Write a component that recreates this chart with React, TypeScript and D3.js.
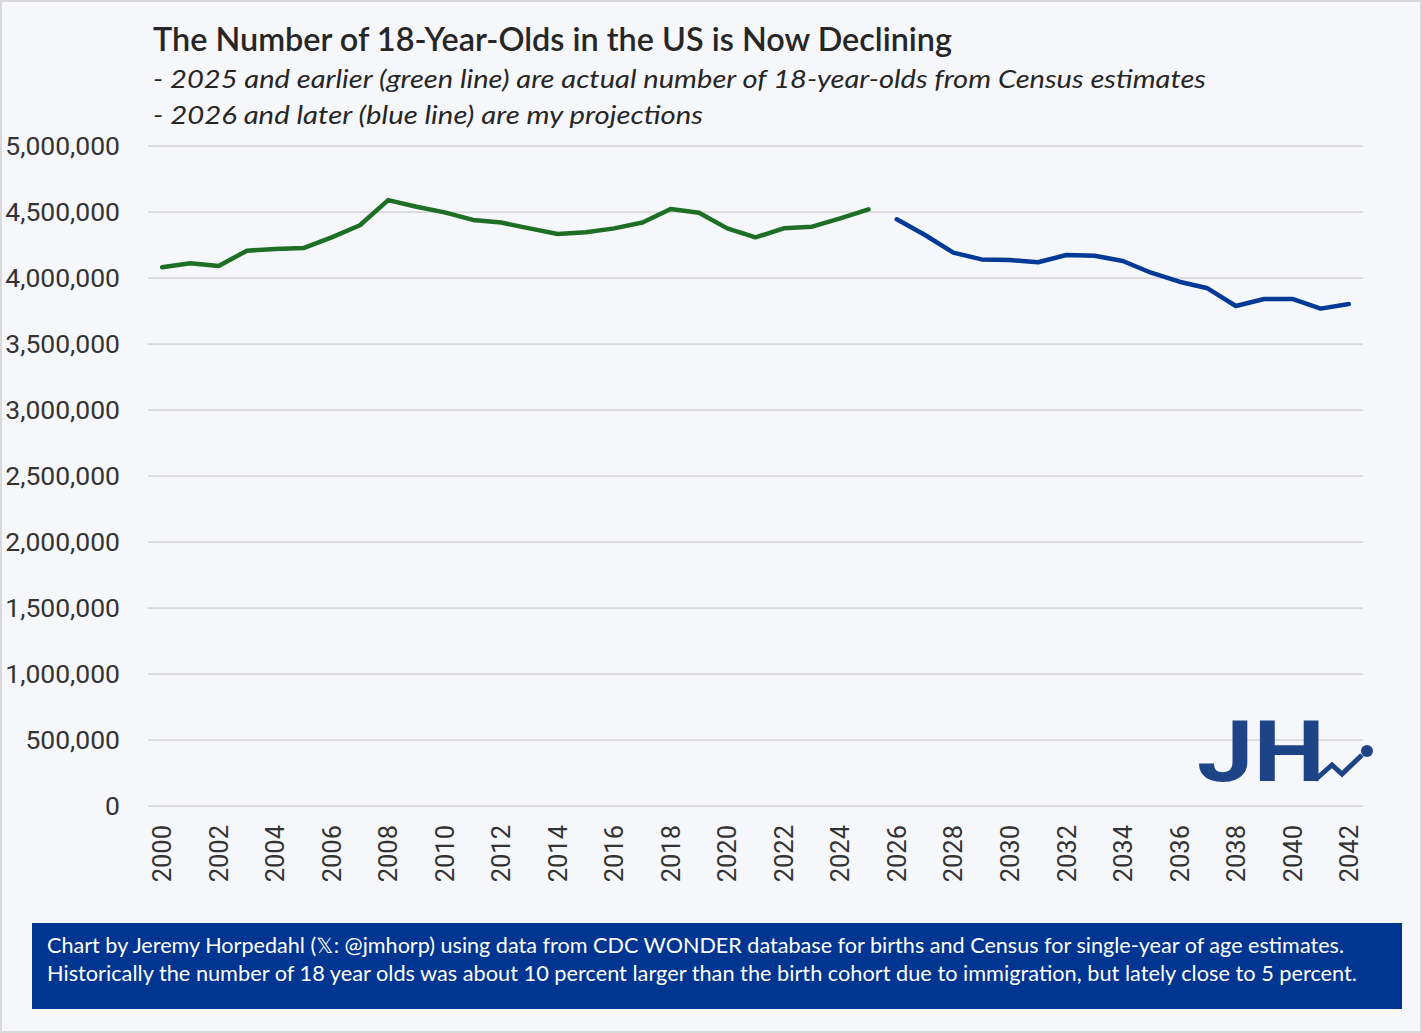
import React from 'react';
import * as d3 from 'd3';

// Actual counts (Census estimates) and projections
const actualYears = d3.range(2000, 2026);
const actualCounts = [
	4081000, 4111000, 4091000, 4207000, 4220000, 4227000, 4308000, 4400000, 4590000, 4540000,
	4497000, 4440000, 4420000, 4376000, 4333000, 4346000, 4376000, 4420000, 4523000, 4495000,
	4376000, 4308000, 4376000, 4389000, 4452000, 4520000,
];
const projYears = d3.range(2026, 2043);
const projCounts = [
	4445000, 4326000, 4192000, 4141000, 4136000, 4119000, 4174000, 4169000, 4129000, 4040000,
	3972000, 3922000, 3788000, 3841000, 3841000, 3768000, 3803000,
];
const yTicks = d3.range(0, 5000001, 500000);
const xTickYears = d3.range(2000, 2043, 2);

const title = 'The Number of 18-Year-Olds in the US is Now Declining';
const subtitles = [
	'- 2025 and earlier (green line) are actual number of 18-year-olds from Census estimates',
	'- 2026 and later (blue line) are my projections',
];
const footerLines = [
	'Chart by Jeremy Horpedahl (\u{1D54F}: @jmhorp) using data from CDC WONDER database for births and Census for single-year of age estimates.',
	'Historically the number of 18 year olds was about 10 percent larger than the birth cohort due to immigration, but lately close to 5 percent.',
];

const W = 1422;
const H = 1033;
const TEXT_FONT = 'Lato, "Open Sans", sans-serif';
const TICK_FONT = 'Roboto, "Liberation Sans", sans-serif';

const App: React.FC = () => {
	const plot = { left: 148, right: 1363, top: 146, bottom: 806 };

	const x = d3.scaleLinear().domain([1999.5, 2042.5]).range([plot.left, plot.right]);
	const y = d3.scaleLinear().domain([0, 5000000]).range([plot.bottom, plot.top]);
	const fmt = d3.format(',');

	const line = d3.line<[number, number]>()
		.x(d => x(d[0]))
		.y(d => y(d[1]));

	const actualPath = line(actualYears.map((yr, i) => [yr, actualCounts[i]]));
	const projPath = line(projYears.map((yr, i) => [yr, projCounts[i]]));

	return (
		<svg
			width={W}
			height={H}
			style={{ position: 'absolute', left: 0, top: 0, display: 'block' }}
		>
			<rect x={1} y={1} width={W - 2} height={H - 2} fill="#f6f7fb" stroke="#d9d9d9" strokeWidth={2} />

			{/* title block */}
			<text x={153} y={51} fontFamily={TEXT_FONT} fontSize={32} fontWeight={600} fill="#262626"
				textLength={799} lengthAdjust="spacingAndGlyphs">{title}</text>
			{subtitles.map((s, i) => (
				<text key={i} x={153} y={88 + i * 36} fontFamily={TEXT_FONT} fontSize={26} fontStyle="italic"
					fill="#262626" textLength={i === 0 ? 1053 : 550} lengthAdjust="spacingAndGlyphs">{s}</text>
			))}

			{/* gridlines + y ticks */}
			{yTicks.map(t => (
				<g key={t}>
					<line x1={plot.left} x2={plot.right} y1={y(t)} y2={y(t)} stroke="#d9d9d9" strokeWidth={1.75} />
					<text x={120} y={y(t)} dy="0.35em" textAnchor="end" fontFamily={TICK_FONT} fontSize={26.5}
						fill="#333333">{fmt(t)}</text>
				</g>
			))}

			{/* x ticks, rotated */}
			{xTickYears.map(yr => (
				<text key={yr} transform={`translate(${x(yr)},825) rotate(-90)`} dy="0.36em" textAnchor="end"
					fontFamily={TICK_FONT} fontSize={25.5} fill="#333333">{yr}</text>
			))}

			<path d={actualPath ?? ''} fill="none" stroke="#1e6f26" strokeWidth={4.5} strokeLinejoin="round" strokeLinecap="round" />
			<path d={projPath ?? ''} fill="none" stroke="#003a96" strokeWidth={4.5} strokeLinejoin="round" strokeLinecap="round" />

			{/* JH logo */}
			<g fill="#1d4486">
				<text x={1197} y={781} fontFamily="Roboto, sans-serif" fontWeight={700} fontSize={86}
					textLength={128} lengthAdjust="spacingAndGlyphs">JH</text>
				<polyline points="1315,780 1332,765 1342,774 1362,755" fill="none" stroke="#1d4486"
					strokeWidth={5} strokeLinejoin="miter" />
				<circle cx={1367} cy={751} r={6} />
			</g>

			{/* footer */}
			<rect x={32} y={923} width={1370} height={86} fill="#003591" />
			{footerLines.map((s, i) => (
				<text key={i} x={47} y={953 + i * 28} fontFamily={TEXT_FONT} fontSize={21} fill="#ffffff"
					textLength={i === 0 ? 1297 : 1310} lengthAdjust="spacingAndGlyphs">{s}</text>
			))}
		</svg>
	);
};

export default App;
